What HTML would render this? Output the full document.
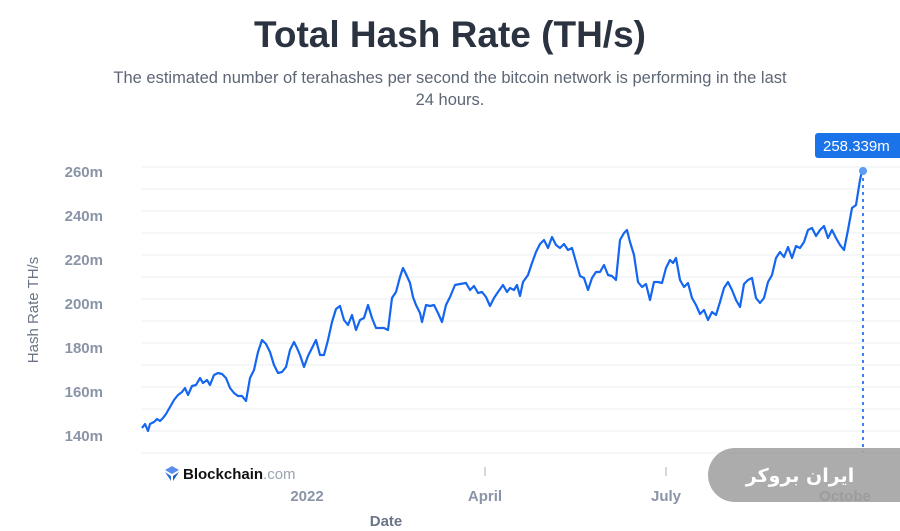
<!DOCTYPE html>
<html><head><meta charset="utf-8"><style>
body{margin:0;width:900px;height:531px;background:#fff;overflow:hidden;font-family:"Liberation Sans",sans-serif;position:relative}
.t{position:absolute;left:0;width:900px;text-align:center}
</style></head><body>
<div class="t" style="top:14px;font-size:37px;font-weight:bold;color:#2b3340">Total Hash Rate (TH/s)</div>
<div class="t" style="top:67px;font-size:16.5px;color:#5d6675;line-height:22px;left:50px;width:800px">The estimated number of terahashes per second the bitcoin network is performing in the last<br>24 hours.</div>
<svg width="900" height="531" style="position:absolute;left:0;top:0">
<g stroke="#e9ecf1" stroke-width="1">
<line x1="142" x2="900" y1="167" y2="167"/><line x1="142" x2="900" y1="189" y2="189"/><line x1="142" x2="900" y1="211" y2="211"/><line x1="142" x2="900" y1="233" y2="233"/><line x1="142" x2="900" y1="255" y2="255"/><line x1="142" x2="900" y1="277" y2="277"/><line x1="142" x2="900" y1="299" y2="299"/><line x1="142" x2="900" y1="321" y2="321"/><line x1="142" x2="900" y1="343" y2="343"/><line x1="142" x2="900" y1="365" y2="365"/><line x1="142" x2="900" y1="387" y2="387"/><line x1="142" x2="900" y1="409" y2="409"/><line x1="142" x2="900" y1="431" y2="431"/><line x1="142" x2="900" y1="453" y2="453"/>
</g>
<g font-size="15" fill="#8a94a6" text-anchor="end" font-weight="bold">
<text x="103" y="177">260m</text><text x="103" y="221">240m</text><text x="103" y="265">220m</text><text x="103" y="309">200m</text><text x="103" y="353">180m</text><text x="103" y="397">160m</text><text x="103" y="441">140m</text>
</g>
<text transform="translate(38,310) rotate(-90)" font-size="15" fill="#6b7587" text-anchor="middle">Hash Rate TH/s</text>
<g stroke="#c5cad3" stroke-width="1.5"><line x1="485" x2="485" y1="467" y2="476"/><line x1="666" x2="666" y1="467" y2="476"/></g>
<g font-size="15" fill="#8a94a6" text-anchor="middle" font-weight="bold">
<text x="307" y="501">2022</text><text x="485" y="501">April</text><text x="666" y="501">July</text><text x="845" y="501">Octobe</text>
</g>
<text x="386" y="526" font-size="15" fill="#6b7587" text-anchor="middle" font-weight="bold">Date</text>
<polygon points="165,470 172,466 179,470 172,474" fill="#5b8def"/><polygon points="165,472 171,476 171,481" fill="#2a6fdb"/><polygon points="179,472 173,476 173,481" fill="#1a5bc4"/>
<text x="183" y="479" font-size="15" font-weight="bold" fill="#111">Blockchain<tspan fill="#9aa3b2" font-weight="normal">.com</tspan></text>
<line x1="863" x2="863" y1="171" y2="452" stroke="#3b82f6" stroke-width="2" stroke-dasharray="3,4"/>
<polyline fill="none" stroke="#1466f0" stroke-width="2.2" stroke-linejoin="round" points="142,428 145,424 148,431 150,424 154,422 157,419 160,421 163,418 166,414 170,407 174,400 178,395 182,392 185,388 188,395 192,386 196,385 200,378 203,383 207,380 210,385 214,375 218,373 222,374 226,378 230,388 234,393 238,396 242,396 246,401 250,378 254,370 258,352 262,340 266,344 270,352 274,365 278,373 282,372 286,367 290,350 294,342 297,348 300,355 304,367 308,356 312,348 316,340 320,355 324,355 328,340 332,322 336,309 340,306 344,320 348,325 352,315 356,330 360,320 364,318 368,305 372,318 376,328 380,328 384,328 388,330 392,298 396,292 400,277 403,268 406,274 410,283 413,297 416,305 420,313 422,322 426,305 430,306 434,305 438,313 442,322 446,305 450,297 455,285 460,284 466,283 470,290 474,286 478,293 482,292 486,297 490,306 494,298 498,292 503,285 507,292 510,288 514,290 517,285 520,296 523,282 528,275 532,263 536,252 540,244 544,240 548,248 552,237 556,245 560,248 564,244 568,250 572,248 576,262 580,276 584,278 588,290 592,278 596,272 600,272 604,265 608,275 612,276 616,280 620,240 624,233 627,230 630,242 634,255 638,282 642,287 646,284 650,300 654,282 658,282 662,283 666,268 670,260 673,263 676,258 680,280 684,287 688,283 692,298 696,305 700,314 704,310 708,320 712,312 716,315 720,302 724,288 728,282 732,290 736,300 740,307 744,284 748,280 752,278 756,298 760,303 764,298 768,282 772,275 776,258 780,252 784,257 788,247 792,258 796,246 800,248 804,242 808,230 812,228 816,236 820,230 824,226 828,238 832,230 836,238 840,245 844,250 848,230 852,208 856,205 860,180 862,171"/>
<circle cx="863" cy="171" r="4" fill="#5b9cf5"/>
<rect x="815" y="133" width="95" height="25" rx="3" fill="#1a73e8"/>
<text x="823" y="151" font-size="15" fill="#fff">258.339m</text>
<rect x="708" y="448" width="230" height="54" rx="27" fill="#9e9e9e" opacity="0.85"/>
<text x="800" y="482" font-size="19" font-weight="bold" fill="#fff" text-anchor="middle" font-family="'DejaVu Sans',sans-serif">ایران بروکر</text>
</svg>
</body></html>
